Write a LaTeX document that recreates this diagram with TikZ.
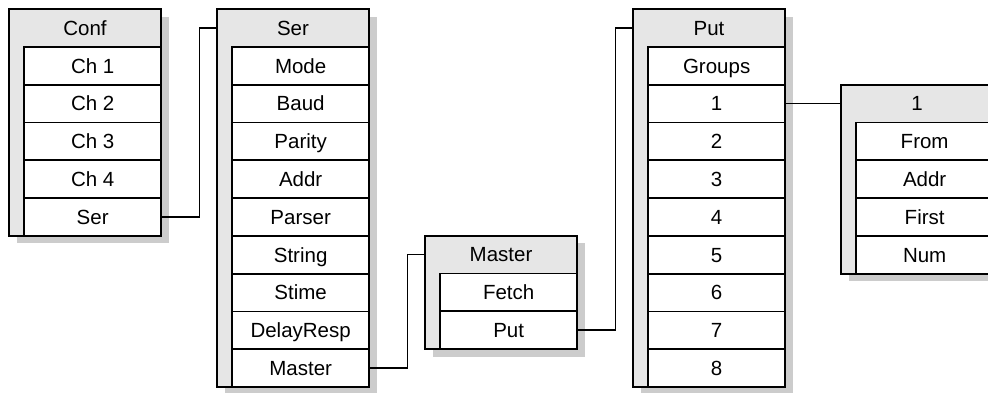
\documentclass[tikz,border=0pt]{standalone}
\usepackage{fontspec}
\setmainfont{Liberation Sans}
\usetikzlibrary{shadows,calc}
\definecolor{hdr}{HTML}{E6E6E6}
\definecolor{shd}{HTML}{CCCCCC}
\begin{document}
\begin{tikzpicture}[x=1pt,y=-1pt,
  every node/.style={outer sep=0pt,inner sep=0pt,font=\fontsize{20.5}{24}\selectfont,text height=14.7pt,text depth=0pt},
  frame/.style={draw,line width=1.8pt,fill=hdr,anchor=north west,minimum width=152pt,
    drop shadow={shadow xshift=7.5pt,shadow yshift=-7.5pt,fill=shd,opacity=1}},
  head/.style={anchor=north west,minimum width=152pt,minimum height=37.8pt},
  field/.style={draw,line width=1.8pt,fill=white,anchor=north west,minimum width=136.7pt,minimum height=37.8pt},
  link/.style={line width=1.5pt}]
\useasboundingbox (0,0) rectangle (988,392);
\clip (0,0) rectangle (988,392);
% Conf
\node[frame,minimum height=226.8pt] (conf) at (9,9) {};
\node[head] (conf-h) at (9,9) {Conf};
\foreach \t [count=\i] in {Ch 1,Ch 2,Ch 3,Ch 4,Ser}
  \node[field] (conf-\i) at (24.3,{9+37.8*\i}) {\t};
% Ser
\node[frame,minimum height=378pt] (ser) at (217,9) {};
\node[head] (ser-h) at (217,9) {Ser};
\foreach \t [count=\i] in {Mode,Baud,Parity,Addr,Parser,String,Stime,DelayResp,Master}
  \node[field] (ser-\i) at (232.3,{9+37.8*\i}) {\t};
% Master
\node[frame,minimum height=113.4pt] (master) at (425,235.7) {};
\node[head] (master-h) at (425,235.7) {Master};
\foreach \t [count=\i] in {Fetch,Put}
  \node[field] (master-\i) at (440.3,{235.7+37.8*\i}) {\t};
% Put
\node[frame,minimum height=378pt] (put) at (633,9) {};
\node[head] (put-h) at (633,9) {Put};
\foreach \t [count=\i] in {Groups,1,2,3,4,5,6,7,8}
  \node[field] (put-\i) at (648.3,{9+37.8*\i}) {\t};
% 1
\node[frame,minimum height=189pt] (one) at (841,84.6) {};
\node[head] (one-h) at (841,84.6) {1};
\foreach \t [count=\i] in {From,Addr,First,Num}
  \node[field] (one-\i) at (856.3,{84.6+37.8*\i}) {\t};
% connectors
\draw[link] (conf-5.east) -| ($(ser-h.west)+(-17.5,0)$) -- (ser-h.west);
\draw[link] (ser-9.east) -| ($(master-h.west)+(-17.5,0)$) -- (master-h.west);
\draw[link] (master-2.east) -| ($(put-h.west)+(-17.5,0)$) -- (put-h.west);
\draw[link] (put-2.east) -- (one-h.west);
\end{tikzpicture}
\end{document}
